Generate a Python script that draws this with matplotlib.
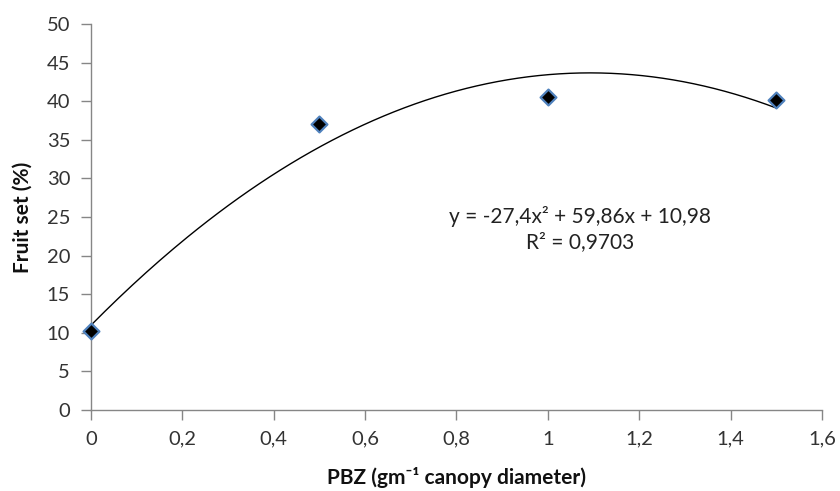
import numpy as np
import matplotlib
matplotlib.use("Agg")
import matplotlib.pyplot as plt

plt.rcParams['font.family'] = ['Lato', 'DejaVu Sans']

pbz = [0, 0.5, 1.0, 1.5]
fruit_set = [10.2, 37.0, 40.6, 40.1]
x_ticks = [0, 0.2, 0.4, 0.6, 0.8, 1.0, 1.2, 1.4, 1.6]
x_tick_labels = ["0", "0,2", "0,4", "0,6", "0,8", "1", "1,2", "1,4", "1,6"]
y_ticks = [0, 5, 10, 15, 20, 25, 30, 35, 40, 45, 50]
trend_coef = [-27.4, 59.86, 10.98]

fig = plt.figure(figsize=(8.4, 4.91), dpi=100)
ax = fig.add_axes([0.1083, 0.165, 0.8703, 0.786])

xs = np.linspace(0, 1.5, 200)
ax.plot(xs, np.polyval(trend_coef, xs), color='black', lw=1.0, zorder=2)
ax.scatter(pbz, fruit_set, marker='D', s=65, color='black', edgecolor='#4F81BD',
           linewidth=1.6, zorder=3, clip_on=False)

ax.set_xlim(0, 1.6)
ax.set_ylim(0, 50)
ax.set_xticks(x_ticks)
ax.set_xticklabels(x_tick_labels)
ax.set_yticks(y_ticks)
for s in ['top', 'right']:
    ax.spines[s].set_visible(False)
for s in ['left', 'bottom']:
    ax.spines[s].set_color('#868686')
    ax.spines[s].set_linewidth(1.0)
ax.tick_params(axis='both', colors='#868686', labelcolor='#333333', labelsize=14.5,
               length=7, width=1.0, direction='out', pad=8)

ax.set_xlabel('PBZ (gm⁻¹ canopy diameter)', fontsize=15, fontweight='bold',
              labelpad=14, color='#111111')
ax.set_ylabel('Fruit set (%)', fontsize=15, fontweight='bold', labelpad=10,
              color='#111111')

ax.text(1.07, 23.4, 'y = -27,4x² + 59,86x + 10,98\nR² = 0,9703', ha='center',
        va='center', fontsize=15, color='#222222', linespacing=1.3)

fig.savefig('out.png', dpi=100)
